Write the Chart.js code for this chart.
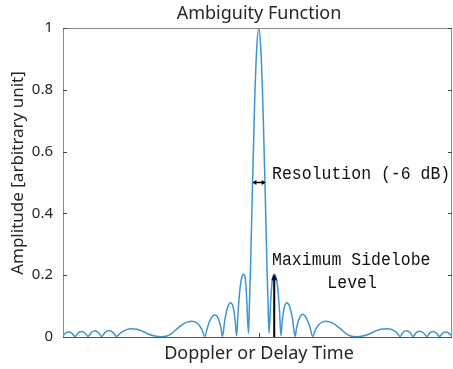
<!DOCTYPE html>
<html>
<head>
<meta charset="utf-8">
<script src="https://cdn.jsdelivr.net/npm/chart.js@4"></script>
<style>
  html, body { margin: 0; padding: 0; background: #fff; }
  #wrap { width: 453px; height: 369px; }
</style>
</head>
<body>
<div id="wrap"><canvas id="ambChart" width="453" height="369"></canvas></div>
<script>
// values (delay in arbitrary steps, amplitude 0..1)
const delay = [
  -19.6, -19.3, -19.0, -18.7, -18.4, -18.05, -17.75, -17.4, -17.1, -16.75, -16.4, -16.05,
  -15.75, -15.35, -15.0, -14.6, -14.25, -13.8, -13.3, -12.8, -12.2, -11.6, -11.0, -10.4,
  -9.8, -9.2, -8.7, -8.1, -7.4, -6.7, -6.1, -5.7, -5.4, -5.1, -4.75, -4.4, -4.05, -3.8,
  -3.63, -3.4, -3.1, -2.83, -2.55, -2.35, -2.22, -2.05, -1.85, -1.65, -1.5, -1.35, -1.2,
  -1.03, -0.93, -0.82, -0.62, -0.41, -0.2, 0, 0.2, 0.41, 0.62, 0.82, 0.93, 1.03,
  1.2, 1.38, 1.53, 1.68, 1.88, 2.07, 2.22, 2.35, 2.55, 2.83, 3.1, 3.4, 3.63, 3.8, 4.05,
  4.4, 4.75, 5.1, 5.4, 5.7, 6.1, 6.7, 7.4, 8.1, 8.7, 9.2, 9.8, 10.4, 11.0, 11.6, 12.2,
  12.9, 13.4, 13.8, 14.15, 14.45, 14.8, 15.15, 15.45, 15.8, 16.15, 16.5, 16.85, 17.15,
  17.5, 17.8, 18.1, 18.4, 18.7, 19.0, 19.35
];
const amplitude = [
  0.004, 0.013, 0.016, 0.012, 0.002, 0.014, 0.018, 0.013, 0.002, 0.015, 0.020, 0.014,
  0.002, 0.016, 0.021, 0.015, 0.002, 0.014, 0.023, 0.027, 0.025, 0.018, 0.009, 0.003,
  0.001, 0.003, 0.012, 0.029, 0.045, 0.051, 0.043, 0.025, 0.002, 0.035, 0.062, 0.072, 0.060, 0.032,
  0.002, 0.055, 0.098, 0.111, 0.095, 0.050, 0.004, 0.09, 0.165, 0.198, 0.203, 0.19, 0.12,
  0.012, 0.11, 0.23, 0.5, 0.76, 0.935, 1.0, 0.935, 0.76, 0.5, 0.23, 0.11, 0.012,
  0.12, 0.19, 0.203, 0.198, 0.165, 0.09, 0.004, 0.05, 0.095, 0.111, 0.098, 0.055, 0.002, 0.032, 0.060,
  0.074, 0.062, 0.035, 0.002, 0.025, 0.043, 0.051, 0.045, 0.029, 0.012, 0.003, 0.001, 0.003, 0.009, 0.018, 0.025,
  0.027, 0.023, 0.014, 0.002, 0.015, 0.020, 0.014, 0.002, 0.015, 0.019, 0.013, 0.002, 0.014,
  0.018, 0.012, 0.002, 0.012, 0.016, 0.013, 0.003
];
const yTicks = [0, 0.2, 0.4, 0.6, 0.8, 1];
const chartTitle = 'Ambiguity Function';
const xTitle = 'Doppler or Delay Time';
const yTitle = 'Amplitude [arbitrary unit]';
const resolutionText = 'Resolution (-6 dB)';
const sidelobeText = ['Maximum Sidelobe', 'Level'];

const points = delay.map((d, i) => ({ x: d, y: amplitude[i] }));

function arrowHead(ctx, x, y, ang, len, wid) {
  ctx.beginPath();
  ctx.moveTo(x, y);
  ctx.lineTo(x - len * Math.cos(ang) + wid * Math.sin(ang), y - len * Math.sin(ang) - wid * Math.cos(ang));
  ctx.lineTo(x - len * Math.cos(ang) - wid * Math.sin(ang), y - len * Math.sin(ang) + wid * Math.cos(ang));
  ctx.closePath();
  ctx.fill();
}

// serif label, a bit taller than plain Liberation Mono
function label(ctx, text, px, py, align) {
  ctx.save();
  ctx.translate(px, py);
  ctx.scale(1, 1.12);
  ctx.textAlign = align;
  ctx.fillText(text, 0, 0);
  ctx.restore();
}

const decorations = {
  id: 'decorations',
  afterDraw(chart) {
    const { ctx, chartArea: a, scales: { x, y } } = chart;
    ctx.save();

    // box
    ctx.strokeStyle = '#8a8a8a';
    ctx.lineWidth = 1;
    ctx.strokeRect(a.left + 0.5, a.top + 0.5, a.right - a.left - 1, a.bottom - a.top);
    ctx.strokeStyle = '#555';
    ctx.beginPath();
    ctx.moveTo(a.left, a.bottom + 0.5);
    ctx.lineTo(a.right, a.bottom + 0.5);
    ctx.stroke();

    // inward ticks
    ctx.strokeStyle = '#444';
    yTicks.forEach(v => {
      const py = Math.round(y.getPixelForValue(v)) + 0.5;
      ctx.beginPath();
      ctx.moveTo(a.left, py); ctx.lineTo(a.left + 4, py);
      ctx.moveTo(a.right, py); ctx.lineTo(a.right - 4, py);
      ctx.stroke();
    });
    const px0 = Math.round(x.getPixelForValue(0)) + 0.5;
    ctx.beginPath();
    ctx.moveTo(px0, a.bottom); ctx.lineTo(px0, a.bottom - 4);
    ctx.stroke();

    // resolution arrow
    ctx.strokeStyle = '#000';
    ctx.fillStyle = '#000';
    ctx.lineWidth = 1.5;
    const ry = y.getPixelForValue(0.5);
    const rx1 = x.getPixelForValue(-0.64), rx2 = x.getPixelForValue(0.7);
    ctx.beginPath();
    ctx.moveTo(rx1 + 2, ry); ctx.lineTo(rx2 - 2, ry);
    ctx.stroke();
    arrowHead(ctx, rx1, ry, Math.PI, 4, 2.5);
    arrowHead(ctx, rx2, ry, 0, 4, 2.5);

    // max sidelobe arrow
    const sx = x.getPixelForValue(1.55);
    const sTop = y.getPixelForValue(0.203);
    ctx.lineWidth = 2;
    ctx.beginPath();
    ctx.moveTo(sx, a.bottom); ctx.lineTo(sx, sTop + 5);
    ctx.stroke();
    arrowHead(ctx, sx, sTop, -Math.PI / 2, 6, 3);

    // annotation texts
    ctx.font = '16.5px "Liberation Mono"';
    ctx.fillStyle = '#111';
    ctx.textBaseline = 'middle';
    label(ctx, resolutionText, x.getPixelForValue(1.33), y.getPixelForValue(0.527), 'left');
    label(ctx, sidelobeText[0], x.getPixelForValue(1.33), y.getPixelForValue(0.249), 'left');
    label(ctx, sidelobeText[1], x.getPixelForValue(9.35), y.getPixelForValue(0.173), 'center');

    // titles
    ctx.fillStyle = '#262626';
    ctx.font = '18px "Noto Sans"';
    ctx.textAlign = 'center';
    ctx.fillText(chartTitle, 259, 14);
    ctx.fillText(xTitle, 259, 354);
    ctx.save();
    ctx.translate(18, 173);
    ctx.rotate(-Math.PI / 2);
    ctx.font = '17px "Noto Sans"';
    ctx.fillText(yTitle, 0, 0);
    ctx.restore();

    ctx.restore();
  }
};

new Chart(document.getElementById('ambChart'), {
  type: 'line',
  data: {
    datasets: [{
      data: points,
      borderColor: '#3f95d2',
      borderWidth: 1.5,
      pointRadius: 0,
      fill: false,
      cubicInterpolationMode: 'monotone'
    }]
  },
  options: {
    responsive: false,
    devicePixelRatio: 1,
    animation: false,
    layout: { padding: { left: 0, top: 28, right: 1, bottom: 0 } },
    plugins: { legend: { display: false }, title: { display: false }, tooltip: { enabled: false } },
    scales: {
      x: {
        type: 'linear',
        min: -19.6,
        max: 19.35,
        grid: { display: false },
        border: { display: false },
        ticks: { display: false },
        afterFit(s) { s.height = 32; }
      },
      y: {
        min: 0,
        max: 1,
        grid: { display: false, drawTicks: false },
        border: { display: false },
        afterBuildTicks(s) { s.ticks = yTicks.map(v => ({ value: v })); },
        ticks: {
          padding: 10,
          color: '#262626',
          font: { family: 'Noto Sans', size: 15 },
          callback: v => String(Math.round(v * 10) / 10)
        },
        afterFit(s) { s.width = 63; }
      }
    }
  },
  plugins: [decorations]
});
</script>
</body>
</html>
